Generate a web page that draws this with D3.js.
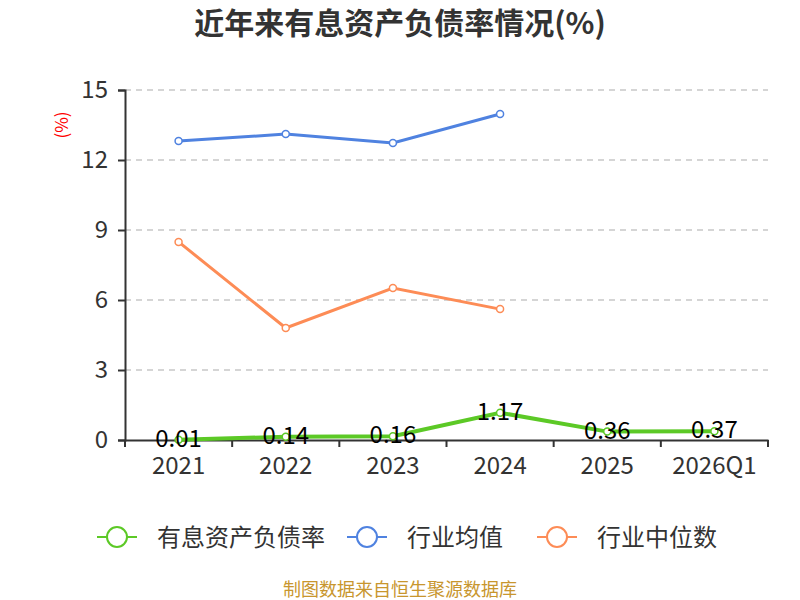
<!DOCTYPE html>
<html>
<head>
<meta charset="utf-8">
<script src="https://cdn.jsdelivr.net/npm/d3@7"></script>
<style>
  body { margin: 0; background: #fff; }
  text { font-family: "Noto Sans CJK SC", "Noto Sans", sans-serif; }
</style>
</head>
<body>
<div id="chart"></div>
<script>
var width = 800
var height = 600

var years = ["2021", "2022", "2023", "2024", "2025", "2026Q1"]
var debtRate = [0.01, 0.14, 0.16, 1.17, 0.36, 0.37]
var industryAvg = [12.81, 13.11, 12.73, 13.97]
var industryMedian = [8.49, 4.80, 6.51, 5.61]
var yTicks = [0, 3, 6, 9, 12, 15]

var seriesNames = ["有息资产负债率", "行业均值", "行业中位数"]
var seriesColors = ["#5cc926", "#4f82e0", "#fd8c56"]

var svg = d3.select("#chart")
    .append("svg")
        .attr("width", width)
        .attr("height", height)

var x = d3.scaleBand()
    .domain(years)
    .range([125, 768])

var y = d3.scaleLinear()
    .domain([0, 15])
    .range([440, 90])

// title
svg.append("text")
    .attr("x", 400)
    .attr("y", 34)
    .attr("text-anchor", "middle")
    .attr("font-size", 30)
    .attr("font-weight", "bold")
    .attr("fill", "#333")
    .text("近年来有息资产负债率情况(%)")

// y label
svg.append("text")
    .attr("transform", "translate(68,125) rotate(-90)")
    .attr("text-anchor", "middle")
    .attr("font-size", 17)
    .attr("fill", "#ff0000")
    .text("(%)")

// grid
svg.selectAll(".grid")
    .data(yTicks.filter(function(d){ return d > 0 }))
    .enter()
    .append("line")
        .attr("x1", 125)
        .attr("x2", 768)
        .attr("y1", function(d){ return y(d) })
        .attr("y2", function(d){ return y(d) })
        .attr("stroke", "#c8c8c8")
        .attr("stroke-width", 1.3)
        .attr("stroke-dasharray", "6,5")

// y axis
var yAxis = svg.append("g")
    .attr("transform", "translate(125,0)")
    .call(d3.axisLeft(y).tickValues(yTicks).tickSize(7).tickPadding(10))
yAxis.select(".domain").attr("stroke", "#333").attr("stroke-width", 2)
yAxis.selectAll(".tick line").attr("stroke", "#333").attr("stroke-width", 2)
yAxis.selectAll(".tick text")
    .attr("font-size", 24)
    .attr("fill", "#333")
    .attr("font-family", "'Noto Sans', sans-serif")

// x axis
var xAxis = svg.append("g")
    .attr("transform", "translate(0,440)")
    .call(d3.axisBottom(x).tickSize(0).tickPadding(17))
xAxis.select(".domain").attr("stroke", "#333").attr("stroke-width", 2)
xAxis.selectAll(".tick text")
    .attr("font-size", 24)
    .attr("fill", "#333")
    .attr("font-family", "'Noto Sans', sans-serif")
xAxis.selectAll(".bound")
    .data(d3.range(years.length + 1))
    .enter()
    .append("line")
        .attr("x1", function(i){ return 125 + i * x.step() })
        .attr("x2", function(i){ return 125 + i * x.step() })
        .attr("y1", 0)
        .attr("y2", 7)
        .attr("stroke", "#333")
        .attr("stroke-width", 2)

function cx(d, i){ return x(years[i]) + x.bandwidth() / 2 }

var line = d3.line()
    .x(cx)
    .y(function(d){ return y(d) })

var allSeries = [debtRate, industryAvg, industryMedian]

// draw median/avg first, then own line on top
;[2, 1, 0].forEach(function(k){
    var data = allSeries[k]
    svg.append("path")
        .datum(data)
        .attr("d", line)
        .attr("fill", "none")
        .attr("stroke", seriesColors[k])
        .attr("stroke-width", k === 0 ? 4 : 3)
    svg.selectAll(".pt" + k)
        .data(data)
        .enter()
        .append("circle")
            .attr("cx", cx)
            .attr("cy", function(d){ return y(d) })
            .attr("r", 3.5)
            .attr("fill", "#fff")
            .attr("stroke", seriesColors[k])
            .attr("stroke-width", 1.5)
})

// data labels
svg.selectAll(".lbl")
    .data(debtRate)
    .enter()
    .append("text")
        .attr("x", cx)
        .attr("y", function(d){ return y(d) + 7 })
        .attr("text-anchor", "middle")
        .attr("font-size", 24)
        .attr("fill", "#000")
        .attr("font-family", "'Noto Sans', sans-serif")
        .text(function(d){ return d.toFixed(2) })

// legend
var legendX = [97, 347, 537]
seriesNames.forEach(function(name, k){
    var g = svg.append("g").attr("transform", "translate(" + legendX[k] + ",537)")
    g.append("line")
        .attr("x1", 0).attr("x2", 40)
        .attr("stroke", seriesColors[k])
        .attr("stroke-width", 2)
    g.append("circle")
        .attr("cx", 20).attr("r", 10)
        .attr("fill", "#fff")
        .attr("stroke", seriesColors[k])
        .attr("stroke-width", 2)
    g.append("text")
        .attr("x", 60)
        .attr("y", 9)
        .attr("font-size", 24)
        .attr("fill", "#333")
        .text(name)
})

// source
svg.append("text")
    .attr("x", 400)
    .attr("y", 596)
    .attr("text-anchor", "middle")
    .attr("font-size", 18)
    .attr("fill", "#c8962e")
    .text("制图数据来自恒生聚源数据库")
</script>
</body>
</html>
